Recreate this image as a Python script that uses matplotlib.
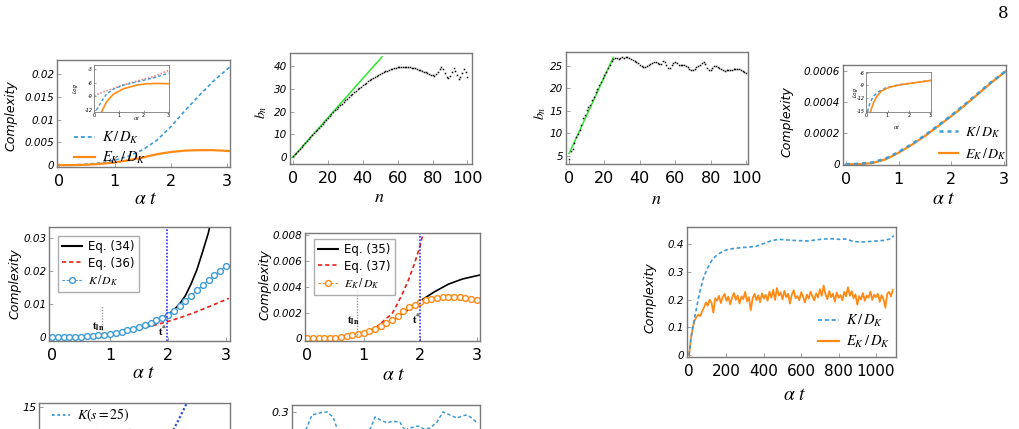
import numpy as np
import matplotlib
matplotlib.use('Agg')
import matplotlib.pyplot as plt
from matplotlib.lines import Line2D

plt.rcParams['mathtext.fontset'] = 'stix'
plt.rcParams['font.family'] = 'DejaVu Sans'

W, H = 1020, 429
BLUE = '#3d9bd6'
ORANGE = '#ff8a16'
GREEN = '#2ee82e'
FRAME = '#7a7a7a'
DASH = (0, (2.2, 1.6))

# ---- data ----
# top-left panel: complexities vs alpha t
p1_t = [0, 0.25, 0.5, 0.75, 1.0, 1.25, 1.5, 1.75, 2.0, 2.25, 2.5, 2.75, 3.05]
p1_K = [0, 0.00005, 0.0002, 0.0005, 0.0011, 0.0020, 0.0034, 0.0055, 0.0085, 0.0120, 0.0153, 0.0184, 0.0216]
p1_E = [0, 0.00002, 0.0001, 0.0003, 0.0006, 0.0011, 0.0017, 0.0024, 0.0029, 0.0032, 0.0033, 0.0033, 0.0031]
# inset (log scale)
in1_t = [0, 0.5, 1.05, 1.73, 2.41, 3.0]
in1_red = [-8.8, -7.75, -6.7, -5.6, -4.6, -3.3]
in1_tK = [0.1, 0.3, 0.5, 0.78, 1.19, 1.73, 2.41, 3.0]
in1_K = [-12.0, -10.1, -8.5, -7.4, -6.5, -5.8, -4.9, -3.9]
in1_tE = [0.3, 0.5, 0.78, 1.19, 1.73, 2.14, 2.55, 3.0]
in1_E = [-12.4, -10.2, -8.5, -7.3, -6.5, -6.2, -6.15, -6.2]

# Lanczos coefficients b_n
p2_n = np.arange(101)
p2_b = [0.3, 1.2, 1.9, 2.8, 3.6, 4.5, 5.3, 6.2, 7.0, 7.9,
        8.7, 9.6, 10.4, 11.3, 12.1, 13.0, 13.8, 14.7, 15.5, 16.4,
        17.2, 18.0, 18.9, 19.7, 20.5, 21.3, 22.0, 22.8, 23.5, 24.3,
        25.0, 25.7, 26.4, 27.1, 27.8, 28.5, 29.1, 29.8, 30.4, 31.0,
        31.6, 32.2, 32.7, 33.3, 33.8, 34.3, 34.8, 35.2, 35.7, 36.1,
        36.5, 36.9, 37.3, 37.6, 37.9, 38.2, 38.5, 38.8, 39.0, 39.2,
        39.4, 39.5, 39.6, 39.7, 39.7, 39.7, 39.6, 39.5, 39.3, 39.1,
        38.9, 38.6, 38.4, 38.1, 37.8, 37.5, 37.2, 36.9, 36.6, 36.2,
        35.9, 35.6, 36.4, 37.5, 38.6, 39.4, 38.6, 37.0, 35.2, 34.6,
        35.5, 37.2, 38.9, 37.8, 36.1, 34.2, 35.0, 36.8, 38.6, 37.4,
        35.0]
p2_fit_n = [0, 51]
p2_fit_b = [0, 44]

p3_n = np.arange(101)
p3_b = [4.3, 6.0, 6.5, 7.8, 9.3, 9.9, 10.8, 11.9, 13.4, 14.2,
        15.3, 15.8, 16.4, 17.5, 18.0, 19.1, 19.9, 20.7, 21.5, 22.3,
        22.9, 23.6, 24.6, 25.2, 26.0, 26.5, 26.7, 26.8, 26.6, 26.7,
        26.9, 26.8, 26.9, 26.9, 26.7, 26.5, 26.3, 26.1, 25.9, 25.6,
        25.3, 25.0, 24.8, 24.7, 24.9, 25.2, 25.4, 25.6, 25.8, 25.9,
        25.7, 25.4, 25.5, 26.0, 25.9, 25.3, 24.5, 24.6, 25.1, 25.6,
        25.8, 25.6, 25.3, 25.2, 25.1, 25.1, 25.0, 24.8, 24.4, 24.1,
        24.1, 24.4, 24.7, 25.0, 25.3, 25.6, 25.8, 25.4, 24.6, 24.0,
        24.1, 24.5, 25.0, 25.0, 24.8, 24.6, 24.4, 24.1, 23.9, 24.0,
        24.1, 24.1, 24.2, 24.3, 24.3, 24.4, 24.3, 24.0, 23.8, 23.6,
        23.4]
p3_fit_n = [0, 25]
p3_fit_b = [5.5, 26.9]

# top-right panel
p4_t = [0, 0.25, 0.5, 0.75, 1.0, 1.25, 1.5, 1.75, 2.0, 2.25, 2.5, 2.75, 3.05]
p4_K = [0, 0.000003, 0.000012, 0.000037, 0.000080, 0.000130, 0.000187, 0.000250, 0.000315, 0.000383, 0.000455, 0.000527, 0.000605]
p4_E = [0, 0.000001, 0.000008, 0.000032, 0.000075, 0.000126, 0.000183, 0.000246, 0.000311, 0.000379, 0.000451, 0.000523, 0.000603]
in4_tK = [0.06, 0.18, 0.34, 0.57, 0.95, 1.57, 2.34, 3.0]
in4_K = [-15.3, -13.2, -11.6, -10.5, -9.5, -8.8, -8.3, -7.8]
in4_tE = [0.2, 0.34, 0.5, 0.72, 1.1, 1.57, 2.34, 3.0]
in4_E = [-15.3, -13.2, -11.6, -10.3, -9.4, -8.85, -8.3, -7.8]

# middle-left: K/D_K against early/late time formulas
p5_t = np.round(np.arange(31) * 0.1, 1)
p5_K = [0, 0.00001, 0.00003, 0.00007, 0.00013, 0.0002, 0.0003, 0.00045, 0.0006, 0.0008,
        0.0011, 0.0014, 0.0017, 0.0021, 0.0026, 0.0031, 0.0037, 0.0044, 0.0052, 0.006,
        0.0069, 0.0080, 0.0094, 0.0110, 0.0126, 0.0142, 0.0158, 0.0173, 0.0188, 0.0202,
        0.0216]
eq34_t = [0, 0.25, 0.5, 0.75, 1.0, 1.25, 1.5, 1.75, 1.9, 2.0, 2.1, 2.2, 2.3, 2.4, 2.5, 2.6, 2.7, 2.75]
eq34_v = [0, 0.00003, 0.0002, 0.0005, 0.0011, 0.0019, 0.0031, 0.0048, 0.006, 0.0069, 0.0083, 0.0101, 0.0126, 0.0162, 0.0205, 0.026, 0.0318, 0.036]
eq36_t = [1.5, 1.75, 2.0, 2.25, 2.5, 2.75, 3.05]
eq36_v = [0.0026, 0.0036, 0.0048, 0.0062, 0.0078, 0.0096, 0.0118]

# middle-second: E_K/D_K against formulas
p6_t = np.round(np.arange(31) * 0.1, 1)
p6_E = [0, 0.000002, 0.000008, 0.00002, 0.00004, 0.00007, 0.00011, 0.00016, 0.00023, 0.00032,
        0.00043, 0.00058, 0.00076, 0.00097, 0.00118, 0.00145, 0.0017, 0.0021, 0.0024, 0.0026,
        0.0028, 0.00295, 0.00305, 0.00312, 0.00317, 0.0032, 0.0032, 0.00318, 0.00312, 0.00305,
        0.00297]
eq35_t = [0, 0.5, 1.0, 1.25, 1.5, 1.75, 2.0, 2.25, 2.5, 2.75, 3.05]
eq35_v = [0, 0.00007, 0.00043, 0.0008, 0.00135, 0.0021, 0.0029, 0.0036, 0.0042, 0.0046, 0.0049]
eq37_t = [1.1, 1.2, 1.3, 1.4, 1.5, 1.6, 1.7, 1.8, 1.9, 2.0, 2.05]
eq37_v = [0.0006, 0.0008, 0.00115, 0.00155, 0.0019, 0.0027, 0.0036, 0.0046, 0.0058, 0.0072, 0.0081]

# middle-right: long time behaviour
p7_tK = [0, 10, 20, 30, 40, 50, 60, 70, 80, 90, 100, 120, 140, 160, 180, 200, 240, 280, 320, 360,
         400, 440, 480, 520, 560, 600, 640, 680, 720, 760, 800, 840, 880, 920, 960, 1000, 1040, 1080, 1095]
p7_K = [0, 0.06, 0.10, 0.135, 0.17, 0.205, 0.235, 0.26, 0.285, 0.3, 0.315, 0.34, 0.356, 0.366, 0.374, 0.38,
        0.385, 0.388, 0.39, 0.393, 0.403, 0.413, 0.418, 0.416, 0.414, 0.413, 0.412, 0.416, 0.419, 0.42,
        0.418, 0.419, 0.41, 0.408, 0.41, 0.412, 0.414, 0.42, 0.432]
p7_tE = np.arange(0, 1100, 10)
p7_E = [0.0, 0.06, 0.1, 0.125, 0.138, 0.146, 0.141, 0.158, 0.172, 0.19,
        0.178, 0.2, 0.189, 0.153, 0.205, 0.196, 0.214, 0.188, 0.209, 0.221,
        0.196, 0.211, 0.183, 0.207, 0.224, 0.199, 0.215, 0.186, 0.212, 0.202,
        0.228, 0.194, 0.209, 0.162, 0.205, 0.221, 0.198, 0.216, 0.191, 0.223,
        0.204, 0.218, 0.196, 0.229, 0.207, 0.236, 0.199, 0.242, 0.215, 0.226,
        0.201, 0.232, 0.209, 0.221, 0.186, 0.219, 0.234, 0.205, 0.213, 0.198,
        0.227, 0.211, 0.19, 0.218, 0.204, 0.229, 0.212, 0.197, 0.223, 0.208,
        0.238, 0.214, 0.251, 0.219, 0.202, 0.231, 0.209, 0.221, 0.193, 0.226,
        0.207, 0.217, 0.198, 0.228, 0.212, 0.245, 0.214, 0.231, 0.205, 0.219,
        0.182, 0.213, 0.201, 0.224, 0.196, 0.215, 0.207, 0.229, 0.199, 0.218,
        0.209, 0.221, 0.192, 0.216, 0.202, 0.171, 0.221, 0.228, 0.212, 0.235]

# bottom row (cut off by the page)
p8_t = [2.0, 2.1, 2.2, 2.3, 2.4]
p8_K = [9.4, 11.2, 12.9, 14.7, 16.5]
p9_x = [0, 4, 8, 10.6, 14.9, 18.6, 21.8, 23.9, 26.6, 32, 38.8, 42.5, 44.1, 47.3, 50.5, 53.7, 57.4, 60,
        62.8, 67, 70.2, 73.4, 77.1, 80.3, 84, 87.8, 90.4, 93, 95.7, 98.4]
p9_y = [0.16, 0.2, 0.256, 0.291, 0.297, 0.3, 0.285, 0.253, 0.218, 0.19, 0.218, 0.262, 0.285, 0.276,
        0.268, 0.273, 0.27, 0.247, 0.253, 0.259, 0.25, 0.253, 0.27, 0.3, 0.291, 0.282, 0.288, 0.291,
        0.282, 0.268]

fig = plt.figure(figsize=(W / 100, H / 100), dpi=100)


def panel(l, t, r, b, small=False):
    ax = fig.add_axes([l / W, 1 - b / H, (r - l) / W, (b - t) / H])
    for s in ax.spines.values():
        s.set_color(FRAME)
        s.set_linewidth(0.6 if small else 1.0)
    ax.tick_params(direction='in', length=1.5 if small else 3, width=0.5, color=FRAME)
    return ax


def ticks(ax, xt, yt, xs=11.5, ys=7.5, xpad=5, ypad=2, fmt=None):
    ax.set_xticks(xt, [str(v) for v in xt], fontsize=xs)
    ylab = [fmt(v) if fmt else str(v) for v in yt]
    ax.set_yticks(yt, ylab, fontsize=ys, fontstyle='italic')
    ax.tick_params(axis='x', pad=xpad)
    ax.tick_params(axis='y', pad=ypad)


def ftext(x, y, s, **kw):
    fig.text(x / W, 1 - y / H, s, ha='center', va='center', **kw)


def leg(ax, handles, labels, x, y, **kw):
    opts = dict(loc='upper left', bbox_to_anchor=(x / W, 1 - y / H), bbox_transform=fig.transFigure,
                frameon=False, fontsize=10, borderpad=0.2, handlelength=1.4, handletextpad=0.5,
                labelspacing=0.25)
    opts.update(kw)
    return ax.legend(handles, labels, **opts)


KD = r'$K\,/\,D_K$'
ED = r'$E_K\,/\,D_K$'
hK = Line2D([], [], color=BLUE, ls=DASH, lw=1.3)
hE = Line2D([], [], color=ORANGE, lw=1.6)

# ---- panel 1 ----
ax1 = panel(57, 60, 230, 167)
ax1.plot(p1_t, p1_K, color=BLUE, ls=DASH, lw=1.2)
ax1.plot(p1_t, p1_E, color=ORANGE, lw=1.6)
ax1.set_xlim(-0.03, 3.05)
ax1.set_ylim(-0.0004, 0.0231)
ticks(ax1, [0, 1, 2, 3], [0, 0.005, 0.01, 0.015, 0.02], fmt=lambda v: '0' if v == 0 else '%g' % v)
leg(ax1, [hK, hE], [KD, ED], 64, 120, fontsize=10.5)
ftext(11, 116, 'Complexity', rotation=90, fontsize=9, fontstyle='italic')
ftext(146, 198, r'$\alpha\ t$', fontsize=14)

in1 = panel(94, 65, 169, 112, small=True)
in1.plot(in1_t, in1_red, color='#f08a8a', ls=(0, (1, 1)), lw=1.2)
in1.plot(in1_tK, in1_K, color=BLUE, ls=DASH, lw=1.0)
in1.plot(in1_tE, in1_E, color=ORANGE, lw=1.2)
in1.set_xlim(0, 3.02)
in1.set_ylim(-12.4, -2.1)
ticks(in1, [0, 1, 2, 3], [-3, -6, -9, -12], xs=3.5, ys=3.5, xpad=1, ypad=1)
ftext(75, 88, 'Log', rotation=90, fontsize=4, fontstyle='italic')
ftext(137, 118, r'$\alpha t$', fontsize=4.5)

# ---- panel 2 ----
ax2 = panel(290, 53, 472, 164)
ax2.plot(p2_fit_n, p2_fit_b, color=GREEN, lw=1.1)
ax2.plot(p2_n, p2_b, ls='none', marker='s', ms=1.1, mew=0, color='black')
ax2.set_xlim(-1.7, 102.6)
ax2.set_ylim(-3, 45.7)
ticks(ax2, [0, 20, 40, 60, 80, 100], [0, 10, 20, 30, 40])
ftext(261, 112, r'$b_n$', rotation=90, fontsize=10)
ftext(379, 197, r'$n$', fontsize=13)

# ---- panel 3 ----
ax3 = panel(566, 52, 748, 164)
ax3.plot(p3_fit_n, p3_fit_b, color=GREEN, lw=1.1)
ax3.plot(p3_n, p3_b, ls='none', marker='s', ms=1.1, mew=0, color='black')
ax3.set_xlim(-1.7, 101.1)
ax3.set_ylim(3.2, 28.1)
ticks(ax3, [0, 20, 40, 60, 80, 100], [5, 10, 15, 20, 25])
ftext(540, 113, r'$b_n$', rotation=90, fontsize=10)
ftext(656, 199, r'$n$', fontsize=13)

# ---- panel 4 ----
ax4 = panel(843, 65, 1006, 165)
ax4.plot(p4_t, p4_E, color=ORANGE, lw=1.6)
ax4.plot(p4_t, p4_K, color=BLUE, ls=(0, (1.6, 1.6)), lw=1.8)
ax4.set_xlim(-0.06, 3.04)
ax4.set_ylim(-0.0000045, 0.00064)
ticks(ax4, [0, 1, 2, 3], [0, 0.0002, 0.0004, 0.0006],
      fmt=lambda v: '0' if v == 0 else '%.4f' % v)
leg(ax4, [Line2D([], [], color=BLUE, ls=(0, (1.6, 1.6)), lw=1.8), hE], [KD, ED], 929, 114,
    labelspacing=0.45)
ftext(787, 122, 'Complexity', rotation=90, fontsize=9, fontstyle='italic')
ftext(944, 199, r'$\alpha\ t$', fontsize=14)

in4 = panel(866, 72, 931, 112, small=True)
in4.plot(in4_tK, in4_K, color=BLUE, ls=DASH, lw=1.1)
in4.plot(in4_tE, in4_E, color=ORANGE, lw=1.2)
in4.set_xlim(0, 3.02)
in4.set_ylim(-15.3, -5.8)
ticks(in4, [0, 1, 2, 3], [-6, -9, -12, -15], xs=3.5, ys=3.5, xpad=1, ypad=1)
ftext(855, 92, 'Log', rotation=90, fontsize=4, fontstyle='italic')
ftext(897, 127, r'$\alpha t$', fontsize=4.5)

# ---- panel 5 ----
ax5 = panel(49, 227, 230, 341)
ax5.plot(eq34_t, eq34_v, color='black', lw=1.2)
ax5.plot(eq36_t, eq36_v, color='#e8201c', ls=(0, (2.5, 1.8)), lw=1.2)
ax5.plot(p5_t, p5_K, color=BLUE, ls=DASH, lw=0.8, marker='o', ms=4.2, mfc='white', mew=1.0)
ax5.axvline(1.98, color='#3030ff', ls=(0, (1, 1)), lw=1.2)
ax5.plot([0.87, 0.87], [0.0012, 0.0095], color='#999999', ls=(0, (1, 1)), lw=1.0)
ax5.text(0.79, 0.0031, r'$\mathbf{t_{ln}}$', fontsize=8, ha='center', va='center')
ax5.text(1.91, 0.0017, r'$\mathbf{t^{*}}$', fontsize=8, ha='center', va='center')
ax5.set_xlim(-0.05, 3.07)
ax5.set_ylim(-0.0011, 0.0334)
ticks(ax5, [0, 1, 2, 3], [0, 0.01, 0.02, 0.03], fmt=lambda v: '0' if v == 0 else '%g' % v)
leg(ax5, [Line2D([], [], color='black', lw=1.5),
          Line2D([], [], color='#e8201c', ls=(0, (2.5, 1.8)), lw=1.2),
          Line2D([], [], color=BLUE, ls=DASH, lw=0.8, marker='o', ms=4.2, mfc='white', mew=1.0)],
    ['Eq. (34)', 'Eq. (36)', KD], 52, 230, frameon=True, fancybox=False, edgecolor='#999999',
    fontsize=8.5, borderpad=0.35, handlelength=1.7, labelspacing=0.3)
ftext(15, 284, 'Complexity', rotation=90, fontsize=9, fontstyle='italic')
ftext(144, 373, r'$\alpha\ t$', fontsize=14)

# ---- panel 6 ----
ax6 = panel(305, 233, 480, 341)
ax6.plot(eq35_t, eq35_v, color='black', lw=1.2)
ax6.plot(eq37_t, eq37_v, color='#e8201c', ls=(0, (2.5, 1.8)), lw=1.2)
ax6.plot(p6_t, p6_E, color=ORANGE, ls=DASH, lw=0.8, marker='o', ms=4.2, mfc='white', mew=1.0)
ax6.axvline(1.99, color='#3030ff', ls=(0, (1, 1)), lw=1.2)
ax6.plot([0.88, 0.88], [0.0003, 0.0039], color='#999999', ls=(0, (1, 1)), lw=1.0)
ax6.text(0.81, 0.0014, r'$\mathbf{t_{ln}}$', fontsize=8, ha='center', va='center')
ax6.text(1.94, 0.0015, r'$\mathbf{t^{*}}$', fontsize=8, ha='center', va='center')
ax6.set_xlim(-0.04, 3.06)
ax6.set_ylim(-0.0002, 0.00816)
ticks(ax6, [0, 1, 2, 3], [0, 0.002, 0.004, 0.006, 0.008],
      fmt=lambda v: '0' if v == 0 else '%.3f' % v)
leg(ax6, [Line2D([], [], color='black', lw=1.5),
          Line2D([], [], color='#e8201c', ls=(0, (2.5, 1.8)), lw=1.2),
          Line2D([], [], color=ORANGE, ls=DASH, lw=0.8, marker='o', ms=4.2, mfc='white', mew=1.0)],
    ['Eq. (35)', 'Eq. (37)', ED], 308, 233, frameon=True, fancybox=False, edgecolor='#999999',
    fontsize=8.5, borderpad=0.35, handlelength=1.7, labelspacing=0.3)
ftext(265, 285, 'Complexity', rotation=90, fontsize=9, fontstyle='italic')
ftext(394, 374, r'$\alpha\ t$', fontsize=14)

# ---- panel 7 ----
ax7 = panel(687, 227, 896, 357)
ax7.plot(p7_tE, p7_E, color=ORANGE, lw=1.3)
ax7.plot(p7_tK, p7_K, color=BLUE, ls=DASH, lw=1.2)
ax7.set_xlim(-11, 1107)
ax7.set_ylim(-0.007, 0.4625)
ticks(ax7, [0, 200, 400, 600, 800, 1000], [0, 0.1, 0.2, 0.3, 0.4], xs=11)
leg(ax7, [hK, hE], [KD, ED], 808, 303, labelspacing=0.3, fontsize=10.5)
ftext(650, 298, 'Complexity', rotation=90, fontsize=9, fontstyle='italic')
ftext(795, 394, r'$\alpha\ t$', fontsize=14)

# ---- bottom row: only the top edge is on this page ----
ax8 = panel(39, 403, 230, 513)
ax8.plot(p8_t, p8_K, color='#2f4fd8', ls=(0, (1, 1)), lw=1.6)
ax8.set_xlim(-0.05, 3.05)
ax8.set_ylim(-0.3, 15.6)
ax8.set_xticks([0, 1, 2, 3], [])
ax8.set_yticks([0, 5, 10, 15], ['', '', '', '15'], fontsize=8, fontstyle='italic')
ax8.tick_params(axis='y', pad=2)
leg(ax8, [Line2D([], [], color=BLUE, ls=(0, (1.5, 1.5)), lw=1.3), hE],
    [r'$K(s=25)$', r'$E_K(s=25)$'], 42, 397, handlelength=1.3, labelspacing=0.15)

ax9 = panel(292, 405, 480, 515)
ax9.plot(p9_x, p9_y, color=BLUE, ls=DASH, lw=1.1)
ax9.set_xlim(0, 100)
ax9.set_ylim(0, 0.32)
ax9.set_xticks([0, 50, 100], [])
ax9.set_yticks([0.1, 0.2, 0.3], ['', '', '0.3'], fontsize=8, fontstyle='italic')
ax9.tick_params(axis='y', pad=2)

ftext(1003, 14, '8', fontsize=12, family='DejaVu Serif')

fig.savefig('out.png', dpi=100)
